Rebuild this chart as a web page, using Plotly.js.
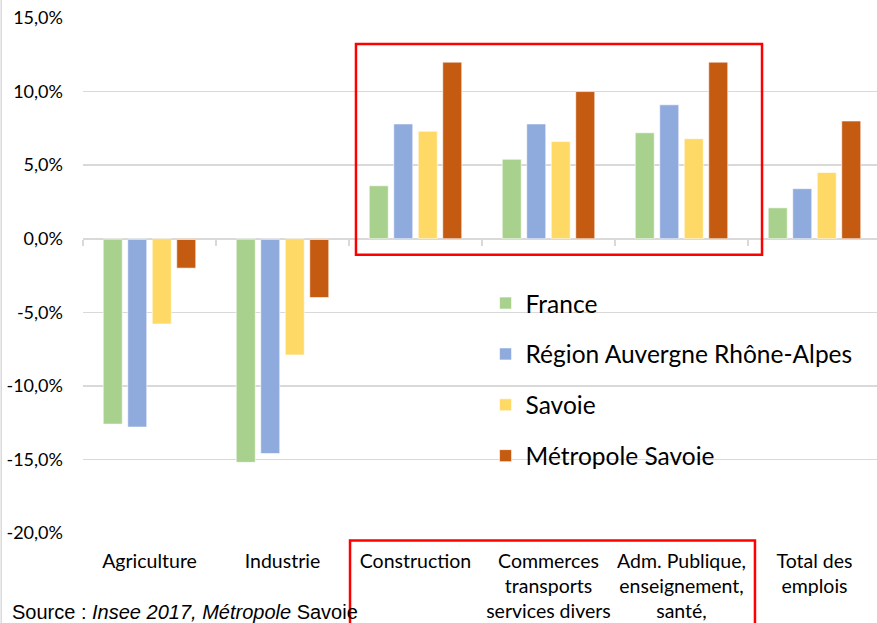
<!DOCTYPE html>
<html>
<head>
<meta charset="utf-8">
<script src="https://cdn.plot.ly/plotly-3.0.1.min.js"></script>
<style>
html, body { margin: 0; padding: 0; background: #fff; overflow: hidden; }
#chart { width: 877px; height: 623px; }
</style>
</head>
<body>
<div id="chart"></div>
<script>
// ---- data ----
const categories = [
  "Agriculture",
  "Industrie",
  "Construction",
  "Commerces<br>transports<br>services divers",
  "Adm. Publique,<br>enseignement,<br>santé,",
  "Total des<br>emplois"
];
const seriesNames = ["France", "Région Auvergne Rhône-Alpes", "Savoie", "Métropole Savoie"];
const france    = [-12.6, -15.2, 3.6, 5.4, 7.2, 2.1];
const region    = [-12.8, -14.6, 7.8, 7.8, 9.1, 3.4];
const savoie    = [-5.8, -7.9, 7.3, 6.6, 6.8, 4.5];
const metropole = [-2.0, -4.0, 12.0, 10.0, 12.0, 8.0];
const yTickVals = [-20, -15, -10, -5, 0, 5, 10, 15];
const yTickText = ["-20,0%", "-15,0%", "-10,0%", "-5,0%", "0,0%", "5,0%", "10,0%", "15,0%"];
const sourceText = "Source : <i>Insee 2017, Métropole</i> Savoie";

// ---- styles ----
const colors = ["#a9d18e", "#8faadc", "#ffd966", "#c55a11"];
const seriesValues = [france, region, savoie, metropole];
const FONT = "Lato, 'Liberation Sans', Arial, sans-serif";
const GRID = "#d9d9d9";

const traces = seriesValues.map((vals, i) => ({
  type: "bar",
  name: seriesNames[i],
  x: categories,
  y: vals,
  legendgroup: "g" + i,
  marker: { color: colors[i], line: { color: "rgba(255,255,255,0.6)", width: 1 } },
  hoverinfo: "skip"
}));

// helper trace carrying the category axis drawn at y = 0 (tick marks only)
traces.push({
  type: "scatter",
  mode: "markers",
  x: categories,
  y: categories.map(() => null),
  xaxis: "x2",
  yaxis: "y",
  showlegend: false,
  hoverinfo: "skip"
});

const yMin = -20, yMax = 15;
const xRange = [-0.5, 5.47];

const layout = {
  width: 877,
  height: 623,
  margin: { l: 83, r: 0, t: 18, b: 90 },
  paper_bgcolor: "#ffffff",
  plot_bgcolor: "#ffffff",
  font: { family: FONT, size: 19, color: "#000" },
  barmode: "group",
  bargap: 0.263,
  bargroupgap: 0.224,
  showlegend: true,
  legend: {
    x: 0.507,
    xanchor: "left",
    y: 0.49,
    yanchor: "top",
    bgcolor: "rgba(0,0,0,0)",
    font: { family: FONT, size: 24.5, color: "#000" },
    tracegroupgap: 16,
    itemclick: false
  },
  xaxis: {
    type: "category",
    categoryarray: categories,
    range: xRange,
    showgrid: false,
    zeroline: false,
    showline: false,
    ticks: "",
    ticklabelstandoff: 14,
    tickfont: { family: FONT, size: 19.5, color: "#000" },
    fixedrange: true
  },
  xaxis2: {
    type: "category",
    categoryarray: categories,
    overlaying: "x",
    anchor: "free",
    position: (0 - yMin) / (yMax - yMin),
    side: "bottom",
    range: xRange,
    showgrid: false,
    zeroline: false,
    showline: true,
    linecolor: GRID,
    linewidth: 1.3,
    ticks: "outside",
    tickson: "boundaries",
    ticklen: 6,
    tickwidth: 1.3,
    tickcolor: GRID,
    showticklabels: false,
    fixedrange: true
  },
  yaxis: {
    range: [yMin, yMax],
    tickvals: yTickVals,
    ticktext: yTickText,
    showgrid: true,
    gridcolor: GRID,
    gridwidth: 1.3,
    zeroline: true,
    zerolinecolor: GRID,
    zerolinewidth: 1.3,
    showline: false,
    ticks: "",
    ticklabelstandoff: 19,
    tickfont: { family: FONT, size: 18, color: "#000" },
    fixedrange: true
  },
  shapes: [
    { type: "rect", xref: "paper", yref: "paper", x0: 0.3438, x1: 0.8552, y0: 0.5403, y1: 0.9497,
      line: { color: "#ff0000", width: 2.5 }, fillcolor: "rgba(0,0,0,0)" },
    { type: "rect", xref: "paper", yref: "paper", x0: 0.3363, x1: 0.8463, y0: -0.22, y1: -0.0148,
      line: { color: "#ff0000", width: 2.5 }, fillcolor: "rgba(0,0,0,0)" },
    { type: "line", xref: "paper", yref: "paper", x0: -0.103, x1: -0.103, y0: -0.2, y1: 1.04,
      line: { color: GRID, width: 1.5 } }
  ],
  annotations: [
    { xref: "paper", yref: "paper", x: -0.092, y: 0, xanchor: "left", yanchor: "top",
      yshift: -66, showarrow: false, text: sourceText,
      font: { family: "'Liberation Sans', Arial, sans-serif", size: 20, color: "#000" } }
  ]
};

Plotly.newPlot("chart", traces, layout, { displayModeBar: false, staticPlot: true });
</script>
</body>
</html>
